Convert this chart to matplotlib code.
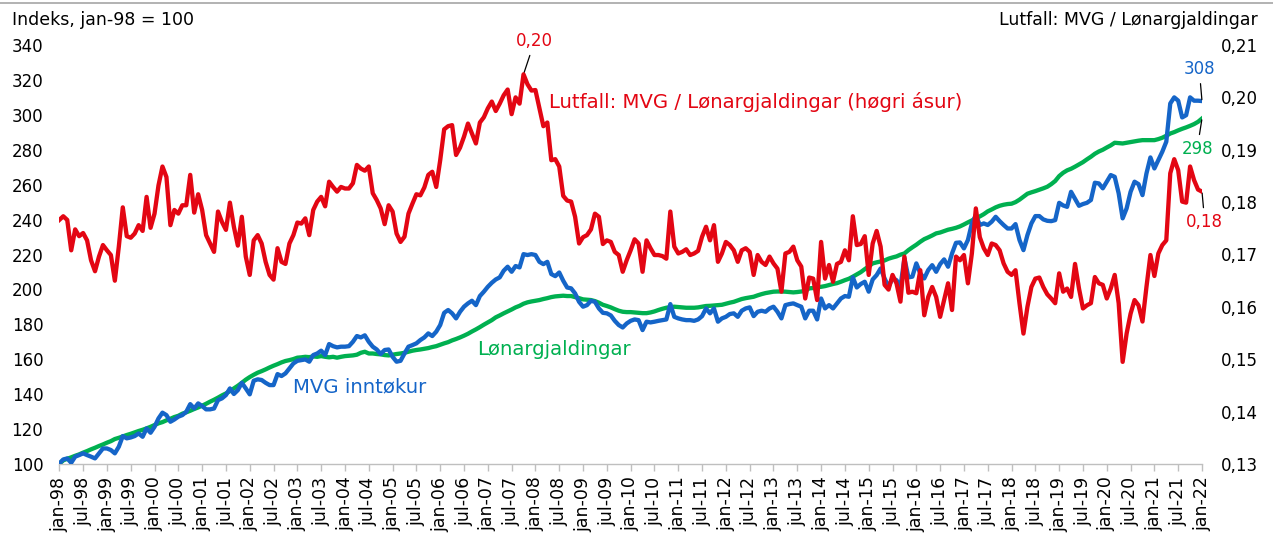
import matplotlib
matplotlib.use("Agg")
import matplotlib.pyplot as plt
from matplotlib.lines import Line2D
from matplotlib.ticker import FuncFormatter

# ---------------- data (monthly, jan-98 .. jan-22) ----------------
years = list(range(1998, 2023))
half_year_names = ["jan", "jul"]

mvg_inntokur = [
    100.3,102.6,103.2,100.7,104.2,105.1,106.1,105.1,104.2,103.2,106.1,108.9,108.9,108.0,106.1,109.9,
    116.0,114.7,115.2,116.0,117.5,115.6,120.4,117.9,121.3,126.1,129.4,128.0,124.2,125.5,127.1,128.0,
    129.9,134.3,131.8,134.7,133.2,131.3,131.3,131.8,136.6,137.6,139.5,143.3,140.1,142.3,146.5,143.3,139.9,
    147.7,148.5,148.1,146.5,145.2,145.2,151.5,150.4,151.9,154.8,157.6,159.1,159.5,159.9,158.6,162.4,
    163.3,164.9,162.4,168.7,167.5,166.8,167.2,167.2,167.5,170.0,173.3,172.5,173.7,170.0,167.2,165.6,
    163.0,165.3,165.6,161.4,158.6,159.1,163.3,167.2,168.1,169.1,171.0,172.5,174.8,173.3,175.8,179.6,
    186.6,188.2,186.3,183.4,187.2,190.1,192.0,193.5,191.0,196.2,198.7,201.5,203.8,205.7,206.9,210.7,
    213.0,210.1,213.4,212.6,220.2,219.7,220.2,219.7,215.8,214.5,215.8,208.8,207.6,209.7,205.0,201.1,
    200.6,197.7,192.9,190.1,191.0,193.5,192.9,189.1,186.6,186.3,185.1,182.0,
    179.6,178.2,180.5,182.0,182.8,182.4,176.7,181.5,181.1,181.5,182.0,182.4,182.8,191.6,184.3,183.4,
    182.8,182.4,182.4,182.0,182.8,184.7,189.1,186.3,189.1,181.5,183.4,184.3,185.9,186.3,184.3,187.8,
    189.1,189.7,184.7,187.2,187.8,187.2,189.1,190.1,187.2,183.4,191.0,191.6,192.0,191.0,190.1,183.4,
    187.8,187.8,182.8,194.8,189.1,191.0,189.1,192.0,194.8,196.2,195.8,206.9,201.1,203.1,204.4,198.7,
    205.7,208.2,212.0,206.3,201.5,206.3,205.3,201.5,217.8,206.9,207.3,214.9,209.2,206.3,211.1,213.9,
    210.1,214.5,217.2,213.0,220.6,226.7,226.9,223.5,228.3,237.8,242.6,236.9,237.8,236.9,238.8,241.6,
    239.1,236.9,234.9,
    234.9,237.4,228.3,222.5,231.1,237.8,242.0,242.0,240.1,239.3,239.1,239.7,249.6,248.1,247.3,255.9,
    251.9,247.9,248.9,249.6,251.2,261.1,260.7,257.9,261.7,265.5,264.5,255.0,240.7,246.4,255.9,261.7,
    260.3,254.0,266.4,275.6,269.3,274.1,278.9,284.6,306.5,310.0,308.1,298.5,299.8,310.0,308.1,308.1,307.9,
]

lonargjaldingar = [
    100.0,102.1,103.0,103.8,104.7,105.5,106.5,107.4,108.4,109.3,110.3,111.2,112.2,113.1,114.3,115.0,
    115.8,116.6,117.3,118.1,118.9,119.6,120.4,121.3,122.3,123.3,124.0,125.0,125.9,126.9,127.6,128.8,
    129.6,130.5,131.5,132.4,133.4,134.5,135.7,136.8,138.0,139.3,140.4,141.8,143.3,144.8,146.5,148.3,149.8,
    151.1,152.3,153.2,154.2,155.3,156.3,157.2,158.2,159.0,159.5,160.1,160.9,161.1,161.4,161.2,161.6,
    161.4,161.8,161.4,161.1,161.4,160.9,161.4,161.8,162.0,162.2,162.6,163.7,164.3,163.3,163.3,163.0,
    162.8,162.4,162.2,162.6,163.0,163.3,163.7,164.3,164.9,165.3,165.6,166.0,166.4,167.0,167.5,168.3,
    169.1,169.8,170.8,171.6,172.5,173.5,174.6,175.9,177.1,178.4,179.8,181.1,182.4,184.0,185.1,186.3,
    187.4,188.5,189.7,190.6,191.8,192.6,193.1,193.5,193.9,194.5,195.0,195.6,196.0,196.2,196.4,196.2,
    196.2,195.6,195.0,194.3,194.1,193.9,193.3,192.4,191.2,190.5,189.7,188.7,
    187.8,187.2,187.0,187.0,186.8,186.6,186.4,186.4,186.8,187.4,188.2,188.9,189.5,189.9,190.1,189.9,
    189.7,189.5,189.5,189.5,189.7,190.1,190.5,190.6,190.8,191.0,191.2,191.8,192.4,192.9,193.7,194.5,
    195.0,195.4,195.8,196.6,197.3,197.9,198.3,198.7,198.8,198.8,198.7,198.5,198.3,198.5,198.8,199.2,
    200.6,200.8,201.3,201.5,201.9,202.5,203.1,203.6,204.4,205.3,206.1,207.3,208.6,209.9,211.6,213.2,
    214.9,215.5,216.0,216.6,217.6,218.3,218.9,219.9,220.6,222.5,224.1,225.6,227.3,228.8,229.8,230.9,
    232.1,232.6,233.4,234.2,234.7,235.3,236.1,237.2,238.4,239.5,240.7,241.8,243.1,244.7,245.8,247.0,
    247.9,248.5,248.9,
    249.1,250.0,251.4,253.1,254.8,255.6,256.3,257.1,257.9,258.8,260.3,262.1,264.9,266.8,268.2,269.1,
    270.3,271.6,272.9,274.5,276.0,277.7,279.0,280.0,281.3,282.5,284.0,283.8,283.6,284.0,284.4,284.8,
    285.2,285.5,285.5,285.5,285.5,286.1,286.9,288.0,289.3,290.1,291.1,292.0,292.8,293.7,294.7,296.0,297.9,
]

lutfall = [
    0.1766,0.1773,0.1766,0.1708,0.1748,0.1735,0.1741,0.1727,0.1689,0.1668,0.1696,0.1718,0.1708,0.1699,
    0.1650,0.1715,0.1790,0.1735,0.1732,0.1740,0.1756,0.1745,0.1810,0.1751,0.1778,0.1832,0.1868,0.1848,
    0.1756,0.1785,0.1778,0.1794,0.1794,0.1852,0.1780,0.1815,0.1785,0.1737,0.1721,0.1705,0.1782,0.1762,
    0.1747,0.1799,0.1753,0.1717,0.1772,0.1696,0.1661,
    0.1727,0.1737,0.1721,0.1686,0.1661,0.1652,0.1712,0.1686,0.1682,0.1721,0.1737,0.1761,0.1759,0.1769,
    0.1737,0.1785,0.1801,0.1810,0.1792,0.1839,0.1829,0.1820,0.1829,0.1826,0.1826,0.1836,0.1871,0.1864,
    0.1860,0.1868,0.1817,0.1804,0.1788,0.1758,0.1794,0.1782,0.1740,0.1724,0.1734,0.1778,0.1797,0.1815,
    0.1813,0.1828,0.1852,0.1858,0.1829,0.1880,
    0.1939,0.1945,0.1947,0.1890,0.1904,0.1925,0.1950,0.1931,0.1912,0.1952,0.1962,0.1979,0.1992,0.1974,
    0.1988,0.2004,0.2015,0.1968,0.2000,0.1988,0.2044,0.2025,0.2013,0.2014,0.1979,0.1945,0.1952,0.1880,
    0.1882,0.1868,0.1812,0.1803,0.1801,0.1772,0.1721,0.1733,0.1737,0.1748,0.1778,0.1772,0.1720,0.1727,
    0.1724,0.1705,
    0.1699,0.1667,0.1689,0.1708,0.1729,0.1721,0.1667,0.1727,0.1712,0.1699,0.1699,0.1697,0.1692,0.1782,
    0.1715,0.1702,0.1705,0.1710,0.1699,0.1702,0.1707,0.1734,0.1753,0.1727,0.1756,0.1686,0.1702,0.1724,
    0.1718,0.1708,0.1686,0.1708,0.1712,0.1705,0.1661,0.1699,0.1686,0.1680,0.1696,0.1683,0.1673,0.1629,
    0.1702,0.1705,0.1715,0.1689,0.1677,0.1616,
    0.1656,0.1654,0.1613,0.1724,0.1654,0.1680,0.1648,0.1682,0.1686,0.1708,0.1689,0.1773,0.1718,0.1720,
    0.1735,0.1661,0.1721,0.1745,0.1715,0.1642,0.1633,0.1661,0.1645,0.1610,0.1696,0.1627,0.1629,0.1626,
    0.1670,0.1584,0.1619,0.1638,0.1619,0.1581,0.1613,0.1645,0.1594,0.1696,0.1689,0.1699,0.1645,0.1702,
    0.1788,0.1733,0.1712,0.1699,0.1721,0.1718,0.1708,0.1683,0.1667,
    0.1661,0.1670,0.1607,0.1549,0.1600,0.1638,0.1654,0.1656,0.1638,0.1624,0.1616,0.1607,0.1664,0.1629,
    0.1635,0.1619,0.1682,0.1635,0.1597,0.1603,0.1607,0.1657,0.1645,0.1642,0.1616,0.1635,0.1661,0.1607,
    0.1495,0.1549,0.1587,0.1613,0.1603,0.1572,0.1638,0.1699,0.1659,0.1702,0.1718,0.1727,0.1855,0.1882,
    0.1861,0.1801,0.1799,0.1868,0.1842,0.1824,0.1820,
]

left_ticks = list(range(100, 341, 20))
right_ticks = [0.13, 0.14, 0.15, 0.16, 0.17, 0.18, 0.19, 0.20, 0.21]

# ---------------- styling ----------------
RED = "#E30613"
BLUE = "#1565C8"
GREEN = "#00B050"
GRAY = "#BFBFBF"
FS = 12
FS_HEAD = 12.5
FS_SERIES = 14.2
plt.rcParams["font.family"] = ["DejaVu Sans"]

W, H = 1273, 533
fig = plt.figure(figsize=(W / 100, H / 100), dpi=100)
x0, x1, ytop, ybot = 59.3, 1202.0, 45.0, 464.0
ax = fig.add_axes([x0 / W, 1 - ybot / H, (x1 - x0) / W, (ybot - ytop) / H])
ax2 = ax.twinx()

months = list(range(len(mvg_inntokur)))

ax.plot(months, lonargjaldingar, color=GREEN, lw=3.1, solid_joinstyle="round", zorder=2)
ax.plot(months, mvg_inntokur, color=BLUE, lw=3.1, solid_joinstyle="round", zorder=3)
ax2.plot(months, lutfall, color=RED, lw=3.1, solid_joinstyle="round", zorder=4)

ax.set_xlim(0, len(months) - 1)
ax.set_ylim(left_ticks[0], left_ticks[-1])
ax2.set_ylim(right_ticks[0], right_ticks[-1])

tick_pos = list(range(0, len(months), 6))
tick_labels = []
for y in years:
    for h in half_year_names:
        tick_labels.append(f"{h}-{y % 100:02d}")
tick_labels = tick_labels[: len(tick_pos)]
ax.set_xticks(tick_pos)
ax.set_xticklabels(tick_labels, rotation=90)
ax.set_yticks(left_ticks)
ax2.set_yticks(right_ticks)
ax2.yaxis.set_major_formatter(FuncFormatter(lambda v, _: f"{v:.2f}".replace(".", ",")))

for a in (ax, ax2):
    for s in a.spines.values():
        s.set_visible(False)
ax.spines["bottom"].set_visible(True)
ax.spines["bottom"].set_color(GRAY)
ax.spines["bottom"].set_linewidth(1.0)

ax.tick_params(axis="x", direction="out", length=5, width=1, color=GRAY, labelsize=12.5, pad=4)
ax.tick_params(axis="y", length=0, labelsize=FS, pad=11.5)
ax2.tick_params(axis="y", length=0, labelsize=FS, pad=13.5)

# top rule
fig.add_artist(Line2D([0, 1], [1 - 3 / H, 1 - 3 / H], color="#A6A6A6", lw=1.2))

# headers
fig.text(12 / W, 1 - 20 / H, "Indeks, jan-98 = 100", ha="left", va="center", fontsize=FS_HEAD)
fig.text(1258 / W, 1 - 20 / H, "Lutfall: MVG / Lønargjaldingar", ha="right", va="center", fontsize=FS_HEAD)

# series labels
ax.text(58.9, 144.1, "MVG inntøkur", color=BLUE, fontsize=FS_SERIES, ha="left", va="center")
ax.text(105.3, 165.3, "Lønargjaldingar", color=GREEN, fontsize=FS_SERIES, ha="left", va="center")
ax2.text(123.4, 0.1991, "Lutfall: MVG / Lønargjaldingar (høgri ásur)", color=RED,
         fontsize=FS_SERIES, ha="left", va="center")

# value annotations
arrow = dict(arrowstyle="-", color="black", lw=0.9, shrinkA=2, shrinkB=1)
imax = max(range(len(lutfall)), key=lambda i: lutfall[i])
ax2.annotate(f"{lutfall[imax]:.2f}".replace(".", ","), xy=(imax, lutfall[imax]),
             xytext=(8, 24), textcoords="offset points", color=RED, fontsize=FS,
             ha="center", va="center", arrowprops=arrow)
last = len(months) - 1
ax.annotate(f"{mvg_inntokur[last]:.0f}", xy=(last, mvg_inntokur[last]),
            xytext=(-2, 23), textcoords="offset points", color=BLUE, fontsize=FS,
            ha="center", va="center", arrowprops=arrow)
ax.annotate(f"{lonargjaldingar[last]:.0f}", xy=(last, lonargjaldingar[last]),
            xytext=(-3.5, -22), textcoords="offset points", color=GREEN, fontsize=FS,
            ha="center", va="center", arrowprops=arrow)
ax2.annotate(f"{lutfall[last]:.2f}".replace(".", ","), xy=(last, lutfall[last]),
             xytext=(2, -22), textcoords="offset points", color=RED, fontsize=FS,
             ha="center", va="center", arrowprops=arrow)

fig.savefig("out.png", dpi=100)
